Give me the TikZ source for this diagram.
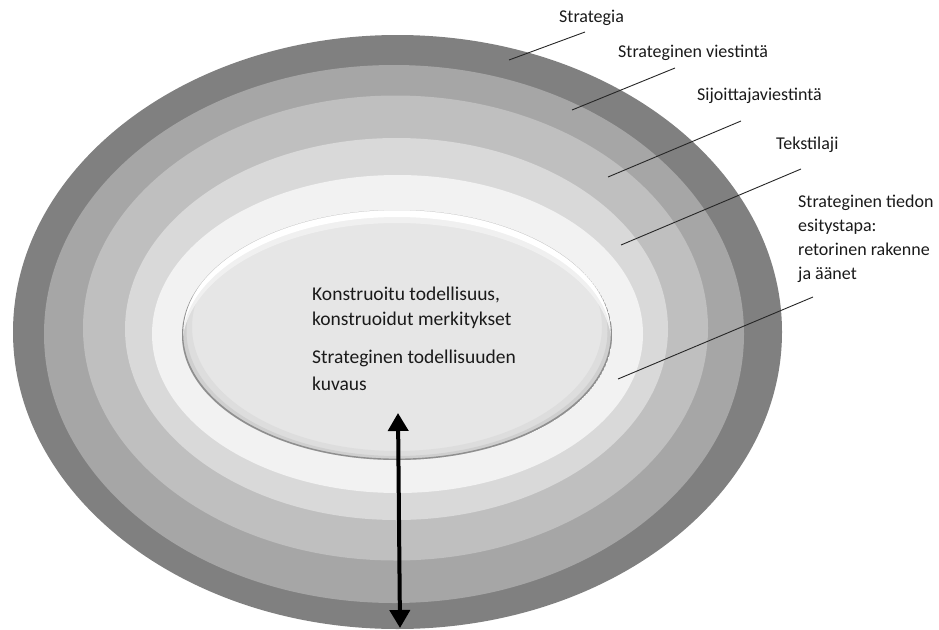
\documentclass[tikz,border=0pt]{standalone}
\usepackage{fontspec}
\setmainfont{Carlito}
\usetikzlibrary{arrows.meta}
\definecolor{ringA}{HTML}{808080}
\definecolor{ringB}{HTML}{A6A6A6}
\definecolor{ringC}{HTML}{BFBFBF}
\definecolor{ringD}{HTML}{D9D9D9}
\definecolor{ringE}{HTML}{F2F2F2}
\definecolor{corefill}{HTML}{E6E6E6}
\definecolor{shadowA}{HTML}{DDDDDD}
\definecolor{shadowB}{HTML}{CFCFCF}
\definecolor{coreline}{HTML}{8F8F8F}
\definecolor{textcol}{HTML}{1A1A1A}
\begin{document}
\begin{tikzpicture}[x=1pt,y=-1pt,
  lbl/.style={anchor=base west, inner sep=0pt, text=textcol, font=\fontsize{18}{24}\selectfont, align=left},
  corelbl/.style={lbl, font=\fontsize{19.5}{25}\selectfont},
  leader/.style={draw=black!85, line width=0.9pt},
  bigarrow/.style={line width=4pt, {Triangle[width=20pt,length=18pt]}-{Triangle[width=20pt,length=18pt]}}
]
\useasboundingbox (0,0) rectangle (939,629);
% rings
\fill[ringA] (397.5,332) ellipse [x radius=384.5pt, y radius=297pt];
\fill[ringB] (394,334) ellipse [x radius=350pt, y radius=269pt];
\fill[ringC] (395.5,328) ellipse [x radius=312.5pt, y radius=232.5pt];
\fill[ringD] (396.5,329) ellipse [x radius=271.5pt, y radius=191pt];
\fill[ringE] (397.5,334) ellipse [x radius=245.5pt, y radius=159pt];
% core ellipse with bevel look
\begin{scope}
  \clip (397,335) ellipse [x radius=215pt, y radius=125pt];
  \fill[corefill] (397,335) ellipse [x radius=215pt, y radius=125pt];
  \fill[shadowA, even odd rule] (397,335) ellipse [x radius=215pt, y radius=125pt]
        (397,327) ellipse [x radius=205pt, y radius=124pt];
  \fill[shadowB, even odd rule] (397,335) ellipse [x radius=215pt, y radius=125pt]
        (397,331.5) ellipse [x radius=210.5pt, y radius=124.5pt];
  \fill[white!40!corefill, even odd rule] (397,335) ellipse [x radius=215pt, y radius=125pt]
        (397,348) ellipse [x radius=215pt, y radius=125pt];
  \fill[white, even odd rule] (397,335) ellipse [x radius=215pt, y radius=125pt]
        (397,342) ellipse [x radius=215pt, y radius=125pt];
  \fill[coreline, even odd rule] (397,335) ellipse [x radius=215pt, y radius=125pt]
        (397,333.6) ellipse [x radius=213.8pt, y radius=125pt];
\end{scope}
% labels
\node[lbl] (l1) at (559,22) {Strategia};
\node[lbl] (l2) at (618,57) {Strateginen viestintä};
\node[lbl] (l3) at (697,100) {Sijoittajaviestintä};
\node[lbl] (l4) at (776,149) {Tekstilaji};
\node[lbl] (l5) at (798,279) {Strateginen tiedon\\esitystapa:\\retorinen rakenne\\ja äänet};
\node[corelbl] (c1) at (312,325) {Konstruoitu todellisuus,\\konstruoidut merkitykset};
\node[corelbl, font=\fontsize{19.5}{27}\selectfont] (c2) at (312,390) {Strateginen todellisuuden\\kuvaus};
% leader lines
\coordinate (s1) at (585,32);  \coordinate (e1) at (509,60);
\coordinate (s2) at (675,68);  \coordinate (e2) at (572,110);
\coordinate (s3) at (741,121); \coordinate (e3) at (608,177);
\coordinate (s4) at (801,169); \coordinate (e4) at (621,245);
\coordinate (s5) at (813,297); \coordinate (e5) at (618,379);
\draw[leader] (s1) -- (e1);
\draw[leader] (s2) -- (e2);
\draw[leader] (s3) -- (e3);
\draw[leader] (s4) -- (e4);
\draw[leader] (s5) -- (e5);
% arrow
\coordinate (atop) at (398,413);
\coordinate (abot) at (400,628);
\draw[bigarrow] (atop) -- (abot);
\end{tikzpicture}
\end{document}
